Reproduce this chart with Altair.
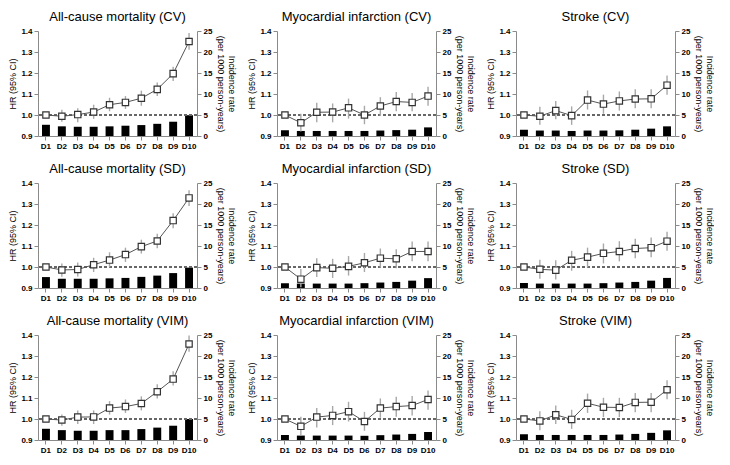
import altair as alt
import pandas as pd

deciles = ["D1", "D2", "D3", "D4", "D5", "D6", "D7", "D8", "D9", "D10"]

titles = [
    "All-cause mortality (CV)", "Myocardial infarction (CV)", "Stroke (CV)",
    "All-cause mortality (SD)", "Myocardial infarction (SD)", "Stroke (SD)",
    "All-cause mortality (VIM)", "Myocardial infarction (VIM)", "Stroke (VIM)",
]

# Hazard ratios
hr_acm_cv = [1.00, 0.994, 1.002, 1.014, 1.049, 1.060, 1.080, 1.122, 1.197, 1.350]
hr_mi_cv = [1.00, 0.963, 1.013, 1.014, 1.034, 1.000, 1.043, 1.064, 1.060, 1.090]
hr_st_cv = [1.00, 0.994, 1.021, 0.997, 1.071, 1.052, 1.067, 1.076, 1.077, 1.142]
hr_acm_sd = [1.00, 0.986, 0.988, 1.011, 1.033, 1.059, 1.097, 1.124, 1.221, 1.329]
hr_mi_sd = [1.00, 0.942, 0.997, 0.994, 1.003, 1.020, 1.042, 1.039, 1.074, 1.074]
hr_st_sd = [1.00, 0.989, 0.985, 1.032, 1.047, 1.065, 1.074, 1.088, 1.092, 1.123]
hr_acm_vim = [1.00, 0.995, 1.009, 1.010, 1.052, 1.059, 1.074, 1.130, 1.190, 1.357]
hr_mi_vim = [1.00, 0.965, 1.009, 1.017, 1.035, 0.988, 1.052, 1.059, 1.064, 1.093]
hr_st_vim = [1.00, 0.991, 1.020, 0.998, 1.075, 1.056, 1.055, 1.079, 1.080, 1.139]

# Lower 95% CI
lo_acm_cv = [1.00, 0.968, 0.966, 0.982, 1.018, 1.029, 1.044, 1.090, 1.162, 1.311]
lo_mi_cv = [1.00, 0.922, 0.965, 0.965, 0.983, 0.956, 0.995, 1.018, 1.018, 1.044]
lo_st_cv = [1.00, 0.953, 0.980, 0.953, 1.026, 1.006, 1.021, 1.032, 1.032, 1.097]
lo_acm_sd = [1.00, 0.953, 0.955, 0.976, 0.998, 1.024, 1.064, 1.089, 1.185, 1.291]
lo_mi_sd = [1.00, 0.903, 0.952, 0.948, 0.959, 0.976, 0.997, 0.994, 1.027, 1.027]
lo_st_sd = [1.00, 0.944, 0.941, 0.982, 0.998, 1.017, 1.027, 1.042, 1.047, 1.077]
lo_acm_vim = [1.00, 0.968, 0.976, 0.976, 1.021, 1.029, 1.041, 1.098, 1.159, 1.320]
lo_mi_vim = [1.00, 0.923, 0.960, 0.971, 0.988, 0.944, 1.006, 1.011, 1.017, 1.044]
lo_st_vim = [1.00, 0.946, 0.976, 0.953, 1.029, 1.009, 1.009, 1.032, 1.032, 1.094]

# Upper 95% CI
hi_acm_cv = [1.00, 1.025, 1.032, 1.049, 1.082, 1.090, 1.116, 1.155, 1.230, 1.391]
hi_mi_cv = [1.00, 1.006, 1.058, 1.055, 1.078, 1.044, 1.085, 1.110, 1.105, 1.134]
hi_st_cv = [1.00, 1.039, 1.067, 1.041, 1.117, 1.097, 1.112, 1.123, 1.123, 1.188]
hi_acm_sd = [1.00, 1.017, 1.021, 1.044, 1.070, 1.092, 1.130, 1.158, 1.256, 1.365]
hi_mi_sd = [1.00, 0.991, 1.042, 1.039, 1.052, 1.067, 1.088, 1.085, 1.121, 1.121]
hi_st_sd = [1.00, 1.035, 1.032, 1.077, 1.092, 1.112, 1.123, 1.135, 1.141, 1.168]
hi_acm_vim = [1.00, 1.021, 1.041, 1.041, 1.085, 1.093, 1.108, 1.166, 1.227, 1.398]
hi_mi_vim = [1.00, 1.011, 1.052, 1.062, 1.082, 1.034, 1.098, 1.106, 1.110, 1.136]
hi_st_vim = [1.00, 1.037, 1.064, 1.044, 1.121, 1.101, 1.101, 1.124, 1.124, 1.185]

# Incidence rates (per 1000 person-years)
ir_acm_cv = [2.67, 2.30, 2.20, 2.20, 2.30, 2.45, 2.60, 2.90, 3.40, 4.95]
ir_mi_cv = [1.37, 1.20, 1.20, 1.20, 1.20, 1.20, 1.30, 1.40, 1.50, 2.05]
ir_st_cv = [1.50, 1.30, 1.30, 1.20, 1.30, 1.30, 1.35, 1.50, 1.75, 2.30]
ir_acm_sd = [2.60, 2.20, 2.20, 2.20, 2.30, 2.40, 2.65, 2.95, 3.55, 4.85]
ir_mi_sd = [1.15, 1.05, 1.05, 1.05, 1.05, 1.15, 1.30, 1.45, 1.75, 2.35]
ir_st_sd = [1.20, 1.05, 1.05, 1.05, 1.05, 1.15, 1.30, 1.45, 1.75, 2.40]
ir_acm_vim = [2.67, 2.35, 2.20, 2.20, 2.35, 2.35, 2.60, 2.95, 3.40, 5.00]
ir_mi_vim = [1.20, 1.05, 1.05, 1.05, 1.05, 1.00, 1.15, 1.30, 1.45, 1.90]
ir_st_vim = [1.37, 1.20, 1.20, 1.20, 1.20, 1.20, 1.30, 1.45, 1.70, 2.30]

hr_all = [hr_acm_cv, hr_mi_cv, hr_st_cv, hr_acm_sd, hr_mi_sd, hr_st_sd, hr_acm_vim, hr_mi_vim, hr_st_vim]
lo_all = [lo_acm_cv, lo_mi_cv, lo_st_cv, lo_acm_sd, lo_mi_sd, lo_st_sd, lo_acm_vim, lo_mi_vim, lo_st_vim]
hi_all = [hi_acm_cv, hi_mi_cv, hi_st_cv, hi_acm_sd, hi_mi_sd, hi_st_sd, hi_acm_vim, hi_mi_vim, hi_st_vim]
ir_all = [ir_acm_cv, ir_mi_cv, ir_st_cv, ir_acm_sd, ir_mi_sd, ir_st_sd, ir_acm_vim, ir_mi_vim, ir_st_vim]

FONT = "Liberation Sans"
AX_GRAY = "#8a8a8a"
W, H = 159, 105


def panel(i):
    df = pd.DataFrame({
        "dec": deciles,
        "hr": hr_all[i],
        "lo": lo_all[i],
        "hi": hi_all[i],
        "ir": ir_all[i],
    })
    base = alt.Chart(df)
    xenc = alt.X(
        "dec:N", sort=deciles,
        scale=alt.Scale(paddingInner=0.5, paddingOuter=0.25),
        axis=alt.Axis(title=None, labelAngle=0, labelPadding=2),
    )
    yhr_scale = alt.Scale(domain=[0.9, 1.4], nice=False, zero=False)
    yhr_axis = alt.Axis(
        title="HR (95% CI)", orient="left", values=[0.9, 1.0, 1.1, 1.2, 1.3, 1.4],
        format=".1f", titlePadding=3,
    )
    bars = base.mark_bar(color="black").encode(
        x=xenc,
        y=alt.Y(
            "ir:Q", scale=alt.Scale(domain=[0, 25], nice=False),
            axis=alt.Axis(
                title=["Incidence rate", "(per 1000 person-years)"], orient="right",
                values=[0, 5, 10, 15, 20, 25], titlePadding=4, titleLineHeight=11,
            ),
        ),
    )
    ref = base.mark_rule(color="#666", strokeDash=[3, 2], strokeWidth=0.9).encode(
        y=alt.datum(1.0, scale=yhr_scale, axis=yhr_axis),
    )
    err = base.mark_rule(color="#a8a8a8", strokeWidth=1.4).encode(
        x=xenc,
        y=alt.Y("lo:Q", scale=yhr_scale, axis=yhr_axis),
        y2="hi:Q",
    )
    line = base.mark_line(color="#555", strokeWidth=1).encode(
        x=xenc,
        y=alt.Y("hr:Q", scale=yhr_scale, axis=yhr_axis),
    )
    pts = base.mark_point(
        shape="square", filled=True, fill="white", stroke="#333",
        strokeWidth=1.2, size=40, opacity=1,
    ).encode(
        x=xenc,
        y=alt.Y("hr:Q", scale=yhr_scale, axis=yhr_axis),
    )
    hrl = alt.layer(ref, err, line, pts)
    return alt.layer(bars, hrl).resolve_scale(y="independent").properties(
        width=W, height=H,
        title=alt.TitleParams(titles[i], fontSize=13, font=FONT, fontWeight="normal",
                              color="black", offset=3, anchor="middle", frame="group"),
    )


rows = [alt.hconcat(*[panel(r * 3 + c) for c in range(3)], spacing=11) for r in range(3)]
chart = alt.vconcat(*rows, spacing=13).properties(
    padding={"top": 3, "left": 0, "right": 0, "bottom": 0}
).configure_view(
    stroke=None
).configure_axis(
    grid=False,
    domainColor=AX_GRAY,
    tickColor=AX_GRAY,
    tickSize=4,
    labelFont=FONT,
    labelFontSize=8,
    labelFontWeight="bold",
    labelColor="black",
    titleFont=FONT,
    titleFontSize=9,
    titleFontWeight="normal",
    titleColor="black",
)

chart.save("out.html", embed_options={"renderer": "svg", "actions": False})
